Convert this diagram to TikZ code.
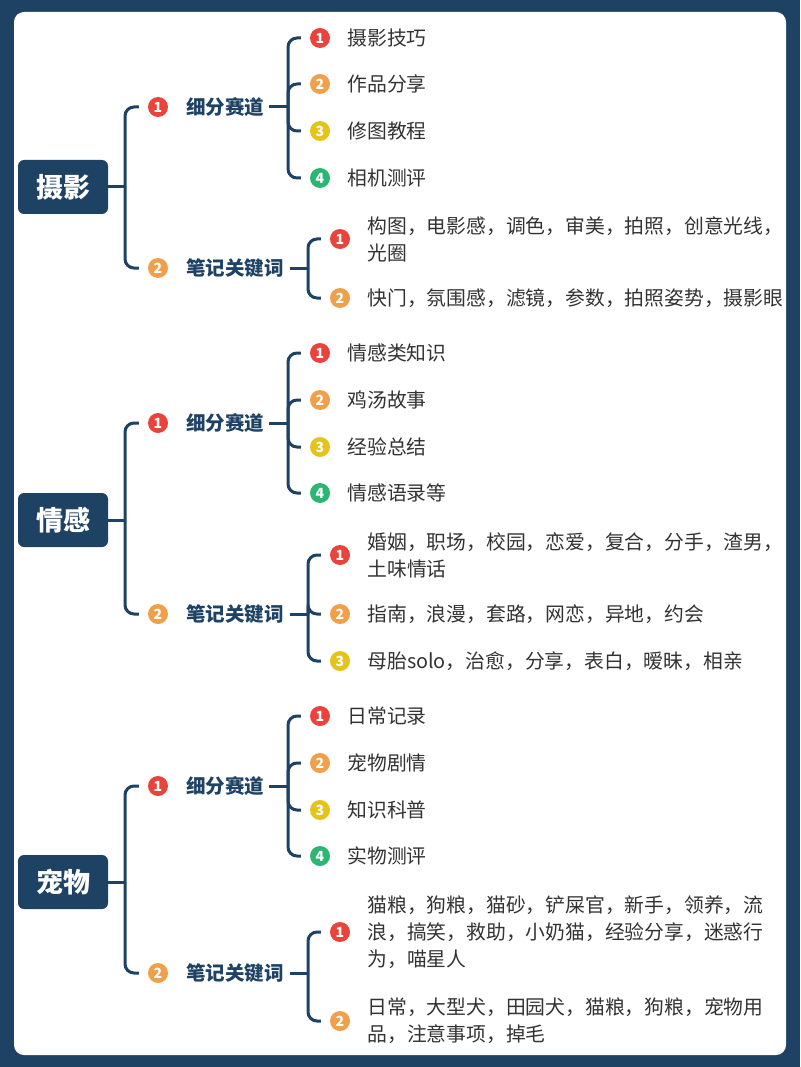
\documentclass[tikz,border=0pt]{standalone}
\usepackage{fontspec}
\setmainfont{Noto Sans CJK SC}
\usetikzlibrary{positioning}
\definecolor{navy}{HTML}{1E4263}
\definecolor{cred}{HTML}{E8443B}
\definecolor{corange}{HTML}{F0A04B}
\definecolor{cyellow}{HTML}{E5C41A}
\definecolor{cgreen}{HTML}{2BB673}
\definecolor{ink}{HTML}{333333}
\tikzset{
  rootbox/.style = {fill=navy, text=white, rounded corners=6pt, minimum width=90pt,
                    minimum height=54pt, font=\bfseries\fontsize{27}{27}\selectfont},
  bul/.style = {circle, fill=#1, text=white, inner sep=0pt, minimum size=20pt,
                font=\bfseries\fontsize{14}{14}\selectfont},
  sublabel/.style = {text=navy, inner sep=0pt, anchor=west, font=\bfseries\fontsize{19.5}{19.5}\selectfont},
  leaf/.style = {text=ink, inner sep=0pt, right=17pt of #1, align=left,
                 font=\fontsize{19.8}{27}\selectfont},
  conn/.style = {draw=navy, line width=3pt, rounded corners=9pt},
}
\newcommand{\branch}[2]{\draw[conn] #1 |- ([xshift=-9pt]#2.west);}
\begin{document}
\begin{tikzpicture}[x=1pt,y=-1pt]
  \fill[navy] (0,0) rectangle (800,1067);
  \fill[white, rounded corners=10pt] (14,12) rectangle (786,1055);

  % ---------- 摄影
  \node[rootbox] (r1) at (63,187) {摄影};
  \node[bul=cred] (b1a) at (158,107) {1};
  \node[sublabel] (s1a) at (186,107) {细分赛道};
  \node[bul=corange] (b1b) at (158,268) {2};
  \node[sublabel] (s1b) at (186,268) {笔记关键词};
  \draw[conn] (r1.east) -- (125,187);
  \branch{(125,187)}{b1a}
  \branch{(125,187)}{b1b}

  \node[bul=cred] (c1) at (320,38) {1};     \node[leaf=c1] {摄影技巧};
  \node[bul=corange] (c2) at (320,84) {2};  \node[leaf=c2] {作品分享};
  \node[bul=cyellow] (c3) at (320,131) {3}; \node[leaf=c3] {修图教程};
  \node[bul=cgreen] (c4) at (320,178) {4};  \node[leaf=c4] {相机测评};
  \draw[conn] ([xshift=5pt]s1a.east) -- (288,107);
  \foreach \n in {c1,c2,c3,c4} {\branch{(288,107)}{\n}}

  \node[bul=cred] (k1) at (340,239) {1};
  \node[leaf=k1] {构图，电影感，调色，审美，拍照，创意光线，\\光圈};
  \node[bul=corange] (k2) at (340,298) {2};
  \node[leaf=k2] {快门，氛围感，滤镜，参数，拍照姿势，摄影眼};
  \draw[conn] ([xshift=6pt]s1b.east) -- (308,268);
  \foreach \n in {k1,k2} {\branch{(308,268)}{\n}}

  % ---------- 情感
  \node[rootbox] (r2) at (63,520) {情感};
  \node[bul=cred] (b2a) at (158,423) {1};
  \node[sublabel] (s2a) at (186,423) {细分赛道};
  \node[bul=corange] (b2b) at (158,614) {2};
  \node[sublabel] (s2b) at (186,614) {笔记关键词};
  \draw[conn] (r2.east) -- (125,520);
  \branch{(125,520)}{b2a}
  \branch{(125,520)}{b2b}

  \node[bul=cred] (d1) at (320,353) {1};     \node[leaf=d1] {情感类知识};
  \node[bul=corange] (d2) at (320,400) {2};  \node[leaf=d2] {鸡汤故事};
  \node[bul=cyellow] (d3) at (320,447) {3};  \node[leaf=d3] {经验总结};
  \node[bul=cgreen] (d4) at (320,493) {4};   \node[leaf=d4] {情感语录等};
  \draw[conn] ([xshift=5pt]s2a.east) -- (288,423);
  \foreach \n in {d1,d2,d3,d4} {\branch{(288,423)}{\n}}

  \node[bul=cred] (m1) at (340,555) {1};
  \node[leaf=m1] {婚姻，职场，校园，恋爱，复合，分手，渣男，\\土味情话};
  \node[bul=corange] (m2) at (340,614) {2};
  \node[leaf=m2] {指南，浪漫，套路，网恋，异地，约会};
  \node[bul=cyellow] (m3) at (340,661) {3};
  \node[leaf=m3] {母胎solo，治愈，分享，表白，暧昧，相亲};
  \draw[conn] ([xshift=6pt]s2b.east) -- (308,614);
  \foreach \n in {m1,m2,m3} {\branch{(308,614)}{\n}}

  % ---------- 宠物
  \node[rootbox] (r3) at (63,882) {宠物};
  \node[bul=cred] (b3a) at (158,786) {1};
  \node[sublabel] (s3a) at (186,786) {细分赛道};
  \node[bul=corange] (b3b) at (158,973) {2};
  \node[sublabel] (s3b) at (186,973) {笔记关键词};
  \draw[conn] (r3.east) -- (125,882);
  \branch{(125,882)}{b3a}
  \branch{(125,882)}{b3b}

  \node[bul=cred] (p1) at (320,716) {1};     \node[leaf=p1] {日常记录};
  \node[bul=corange] (p2) at (320,763) {2};  \node[leaf=p2] {宠物剧情};
  \node[bul=cyellow] (p3) at (320,810) {3};  \node[leaf=p3] {知识科普};
  \node[bul=cgreen] (p4) at (320,856) {4};   \node[leaf=p4] {实物测评};
  \draw[conn] ([xshift=5pt]s3a.east) -- (288,786);
  \foreach \n in {p1,p2,p3,p4} {\branch{(288,786)}{\n}}

  \node[bul=cred] (q1) at (340,932) {1};
  \node[leaf=q1] {猫粮，狗粮，猫砂，铲屎官，新手，领养，流\\浪，搞笑，救助，小奶猫，经验分享，迷惑行\\为，喵星人};
  \node[bul=corange] (q2) at (340,1021) {2};
  \node[leaf=q2] {日常，大型犬，田园犬，猫粮，狗粮，宠物用\\品，注意事项，掉毛};
  \draw[conn] ([xshift=6pt]s3b.east) -- (308,973);
  \foreach \n in {q1,q2} {\branch{(308,973)}{\n}}
\end{tikzpicture}
\end{document}
